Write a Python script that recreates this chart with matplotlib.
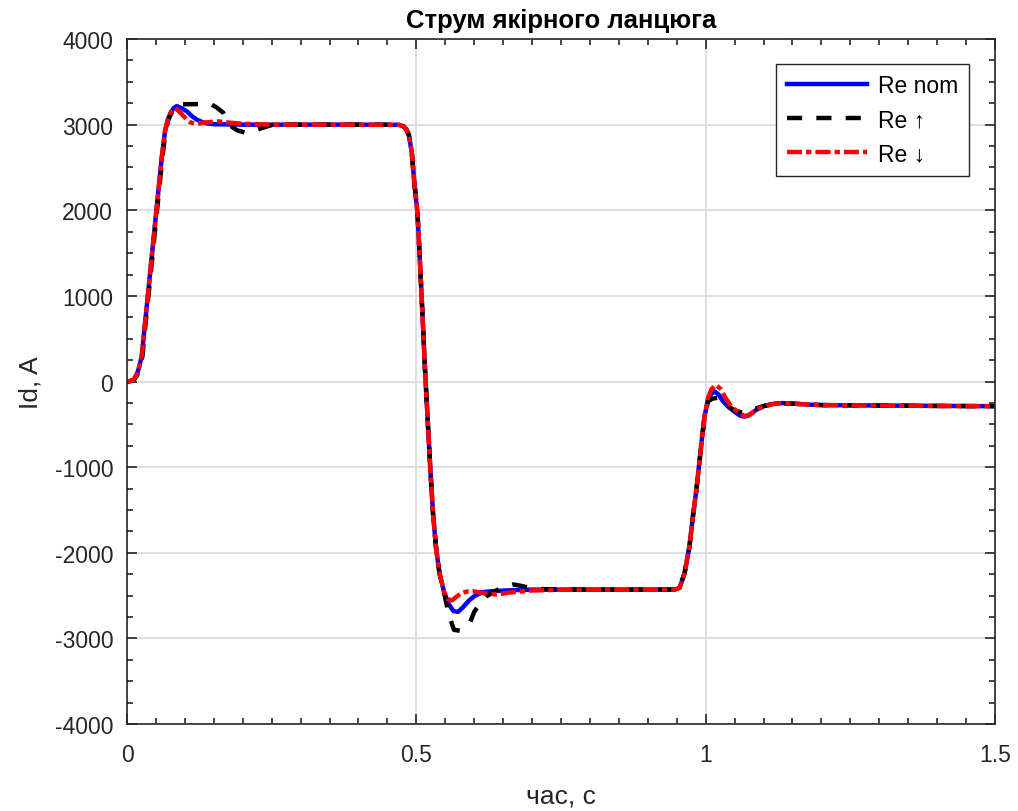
import numpy as np
import matplotlib
matplotlib.use("Agg")
import matplotlib.pyplot as plt

plt.rcParams['font.family'] = ['Liberation Sans', 'DejaVu Sans']
plt.rcParams['axes.unicode_minus'] = False

# Re nom
t_nom = [0, 0.005, 0.011, 0.016, 0.0196, 0.0253, 0.031, 0.0369, 0.0426, 0.0484,
         0.0542, 0.060, 0.0657, 0.0705, 0.0743, 0.080, 0.0858, 0.092, 0.103, 0.112,
         0.12, 0.13, 0.1375, 0.15, 0.2, 0.3, 0.4, 0.47, 0.478, 0.483,
         0.487, 0.492, 0.496, 0.502, 0.5065, 0.5107, 0.5148, 0.5195, 0.5243, 0.529,
         0.5343, 0.540, 0.548, 0.556, 0.564, 0.572, 0.58, 0.5906, 0.60, 0.614,
         0.63, 0.656, 0.7, 0.8, 0.9, 0.948, 0.955, 0.9637, 0.972, 0.978,
         0.984, 0.9896, 0.994, 0.998, 1.004, 1.010, 1.0156, 1.022, 1.03, 1.04,
         1.053, 1.06, 1.067, 1.075, 1.0876, 1.1, 1.11, 1.122, 1.134, 1.15,
         1.18, 1.2, 1.3, 1.4, 1.5]
i_nom = [0, 5, 20, 70, 136, 291, 678, 1066, 1453, 1841,
         2229, 2616, 2926, 3060, 3120, 3190, 3217, 3200, 3158, 3100,
         3061, 3030, 3015, 3005, 3000, 3000, 3000, 2998, 2980, 2940,
         2880, 2680, 2360, 1960, 1360, 760, 160, -440, -1040, -1560,
         -1960, -2240, -2460, -2600, -2680, -2690, -2640, -2560, -2507, -2460,
         -2449, -2440, -2430, -2430, -2430, -2428, -2408, -2233, -1922, -1573,
         -1262, -913, -641, -408, -214, -140, -117, -150, -230, -300,
         -369, -400, -410, -395, -330, -290, -270, -255, -252, -258,
         -270, -275, -280, -285, -288]

# Re up
t_up = [0, 0.006, 0.012, 0.017, 0.021, 0.0265, 0.032, 0.038, 0.0437, 0.0495,
        0.0553, 0.061, 0.0667, 0.0715, 0.0755, 0.083, 0.09, 0.1, 0.12, 0.135,
        0.145, 0.155, 0.1665, 0.172, 0.178, 0.19, 0.205, 0.22, 0.235, 0.25,
        0.265, 0.3, 0.4, 0.47, 0.478, 0.483, 0.487, 0.492, 0.496, 0.502,
        0.5065, 0.5107, 0.5148, 0.5195, 0.5243, 0.529, 0.5343, 0.540, 0.548, 0.556,
        0.565, 0.575, 0.585, 0.593, 0.60, 0.61, 0.6215, 0.636, 0.65, 0.6675,
        0.68, 0.693, 0.72, 0.8, 0.9, 0.948, 0.955, 0.9637, 0.972, 0.978,
        0.984, 0.9896, 0.994, 0.998, 1.004, 1.012, 1.02, 1.035, 1.05, 1.065,
        1.08, 1.1, 1.12, 1.14, 1.18, 1.2, 1.3, 1.4, 1.5]
i_up = [0, 5, 20, 70, 136, 291, 678, 1066, 1453, 1841,
        2229, 2616, 2926, 3060, 3120, 3200, 3235, 3238, 3240, 3245,
        3240, 3200, 3138, 3060, 2990, 2935, 2905, 2930, 2965, 2995,
        3000, 3000, 3000, 2998, 2980, 2940, 2880, 2680, 2360, 1960,
        1360, 760, 160, -440, -1040, -1560, -1960, -2240, -2470, -2720,
        -2900, -2910, -2860, -2810, -2690, -2590, -2507, -2449, -2400, -2370,
        -2385, -2405, -2425, -2430, -2430, -2428, -2408, -2233, -1922, -1573,
        -1262, -913, -641, -408, -230, -200, -190, -270, -340, -365,
        -330, -285, -262, -255, -268, -275, -280, -285, -288]

# Re down
t_dn = [0, 0.005, 0.011, 0.016, 0.0196, 0.0253, 0.031, 0.0369, 0.0426, 0.0484,
        0.0542, 0.060, 0.0657, 0.0705, 0.0743, 0.080, 0.086, 0.095, 0.103, 0.11,
        0.12, 0.135, 0.155, 0.175, 0.2, 0.25, 0.3, 0.4, 0.47, 0.478,
        0.483, 0.487, 0.492, 0.496, 0.502, 0.5065, 0.5107, 0.5148, 0.5195, 0.5243,
        0.529, 0.5343, 0.540, 0.548, 0.555, 0.562, 0.568, 0.578, 0.59, 0.598,
        0.615, 0.639, 0.66, 0.7, 0.75, 0.8, 0.9, 0.948, 0.955, 0.9637,
        0.972, 0.978, 0.984, 0.9896, 0.994, 0.998, 1.004, 1.01, 1.018, 1.026,
        1.035, 1.045, 1.059, 1.067, 1.075, 1.09, 1.11, 1.122, 1.134, 1.15,
        1.18, 1.2, 1.3, 1.4, 1.5]
i_dn = [0, 5, 20, 70, 136, 291, 678, 1066, 1453, 1841,
        2229, 2616, 2926, 3060, 3130, 3190, 3180, 3120, 3060, 3025,
        3010, 3025, 3040, 3025, 3010, 3000, 3000, 3000, 2998, 2980,
        2940, 2880, 2680, 2360, 1960, 1360, 760, 160, -440, -1040,
        -1560, -1960, -2240, -2460, -2546, -2555, -2520, -2468, -2450, -2449,
        -2470, -2488, -2465, -2440, -2432, -2430, -2430, -2428, -2408, -2233,
        -1922, -1573, -1262, -913, -641, -408, -190, -90, -39, -90,
        -200, -300, -369, -405, -390, -320, -272, -258, -252, -258,
        -270, -275, -280, -285, -288]

labels = ['Re nom', 'Re \u2191', 'Re \u2193']

fig = plt.figure(figsize=(10.18, 8.12), dpi=100)
ax = fig.add_axes([0.1248, 0.1071, 0.8526, 0.8436])

lw = 3.2
ax.plot(t_nom, i_nom, color='#0000ff', lw=lw, label=labels[0])
ax.plot(t_up, i_up, color='black', lw=lw, dashes=(3.4, 3.2), label=labels[1])
ax.plot(t_dn, i_dn, color='#ff0000', lw=lw, dashes=(3.4, 0.9, 1.2, 0.9), label=labels[2])

ax.set_xlim(0, 1.5)
ax.set_ylim(-4000, 4000)
ax.set_xticks([0, 0.5, 1, 1.5])
ax.set_xticklabels(['0', '0.5', '1', '1.5'])
ax.set_yticks(np.arange(-4000, 4001, 1000))
ax.set_xticks(np.arange(0, 1.5001, 0.05), minor=True)
ax.set_yticks(np.arange(-4000, 4001, 250), minor=True)

ax.grid(True, which='major', color='#dcdcdc', lw=1.3)
ax.set_axisbelow(True)
ax.tick_params(which='both', direction='in', top=True, right=True, colors='#262626',
               labelsize=16.5)
ax.tick_params(axis='x', pad=14)
ax.tick_params(axis='y', pad=10)
ax.tick_params(which='major', length=7, width=1.2)
ax.tick_params(which='minor', length=4, width=1.2)
for s in ax.spines.values():
    s.set_color('#262626')
    s.set_linewidth(1.2)

ax.set_xlabel('час, с', fontsize=19, color='#262626', labelpad=12)
ax.set_ylabel('Id, A', fontsize=19, color='#262626', labelpad=9)
ax.set_title('Струм якірного ланцюга', fontsize=18.5, fontweight='bold', pad=9)

leg = ax.legend(loc='upper right', bbox_to_anchor=(0.970, 0.9635), borderaxespad=0,
                fontsize=16.5, handlelength=3.5, labelspacing=0.48, fancybox=False,
                framealpha=1, edgecolor='#262626', borderpad=0.45, handletextpad=0.5)
leg.get_frame().set_linewidth(1.0)

fig.savefig('out.png', dpi=100)
